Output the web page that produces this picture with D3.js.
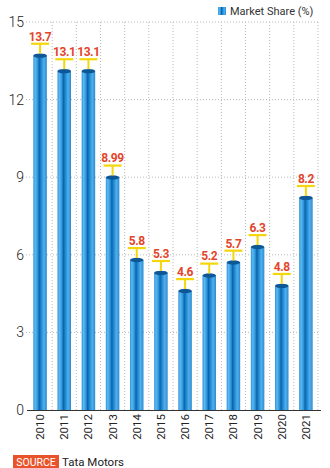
<!DOCTYPE html>
<html><head><meta charset="utf-8">
<script src="https://cdn.jsdelivr.net/npm/d3@7"></script>
<style>body{margin:0;background:#fff;}svg{display:block;font-family:Roboto,"Noto Sans",sans-serif;}</style>
</head><body>
<svg id="c" width="330" height="468"></svg>
<script>
const years = ["2010","2011","2012","2013","2014","2015","2016","2017","2018","2019","2020","2021"];
const share = [13.7,13.1,13.1,8.99,5.8,5.3,4.6,5.2,5.7,6.3,4.8,8.2];
const labels = ["13.7","13.1","13.1","8.99","5.8","5.3","4.6","5.2","5.7","6.3","4.8","8.2"];
const yTicks = [0,3,6,9,12,15];
const seriesName = "Market Share (%)";
const sourceText = "Tata Motors";

const svg = d3.select("#c");
const x = d3.scaleBand().domain(years).range([28,318]).paddingInner(0.44).paddingOuter(0.22);
const y = d3.scaleLinear().domain([0,15]).range([410,22]);

const defs = svg.append("defs");
const g = defs.append("linearGradient").attr("id","cyl").attr("x1","0").attr("x2","1").attr("y1","0").attr("y2","0");
[[0,"#3190d8"],[0.14,"#5cbaf0"],[0.32,"#2e96dc"],[0.44,"#0d63aa"],[0.54,"#177ec9"],[0.78,"#4fb0eb"],[1,"#2e8ad2"]]
  .forEach(([o,c])=>g.append("stop").attr("offset",o).attr("stop-color",c));

svg.append("g").selectAll("line").data(yTicks.filter(d=>d>0)).join("line")
  .attr("x1",26).attr("x2",320).attr("y1",d=>y(d)).attr("y2",d=>y(d))
  .attr("stroke","#b8b8b8").attr("stroke-width",1).attr("stroke-dasharray","1,2");
const step = x.step();
const bounds = years.slice(1).map(yr=>x(yr)-(step-x.bandwidth())/2).concat([318]);
svg.append("g").selectAll("line").data(bounds).join("line")
  .attr("x1",d=>d).attr("x2",d=>d).attr("y1",y(15)).attr("y2",y(0))
  .attr("stroke","#b8b8b8").attr("stroke-width",1).attr("stroke-dasharray","1,2");

svg.append("g").selectAll("text").data(yTicks).join("text")
  .attr("x",24).attr("y",d=>y(d)+5).attr("text-anchor","end")
  .attr("font-size",14).attr("font-weight",300).attr("fill","#222").text(d=>d);

const bw = x.bandwidth();
const bars = svg.append("g");
years.forEach((yr,i)=>{
  const cx = x(yr)+bw/2, top = y(share[i]);
  bars.append("rect").attr("x",x(yr)).attr("y",top).attr("width",bw).attr("height",y(0)-top)
    .attr("fill","url(#cyl)");
  bars.append("ellipse").attr("cx",cx).attr("cy",top).attr("rx",bw/2).attr("ry",2.2).attr("fill","#0d5796");
  bars.append("rect").attr("x",cx-1).attr("y",top-12).attr("width",2).attr("height",10).attr("fill","#f4d60c");
  bars.append("rect").attr("x",cx-9).attr("y",top-13).attr("width",18).attr("height",2.2).attr("fill","#f4d60c");
  bars.append("text").attr("x",cx).attr("y",top-15).attr("text-anchor","middle")
    .attr("font-size",12).attr("font-weight","bold").attr("letter-spacing",-0.4).attr("fill","#e3452a").text(labels[i]);
});

svg.append("line").attr("x1",27).attr("x2",321).attr("y1",y(0)+0.5).attr("y2",y(0)+0.5).attr("stroke","#333").attr("stroke-width",1);

svg.append("g").selectAll("text").data(years).join("text")
  .attr("transform",d=>`translate(${x(d)+bw/2+4},414) rotate(-90)`)
  .attr("text-anchor","end").attr("font-size",11.5).attr("fill","#222").text(d=>d);

svg.append("rect").attr("x",218).attr("y",7).attr("width",8).attr("height",8).attr("fill","url(#cyl)");
svg.append("text").attr("x",230).attr("y",15).attr("font-size",11).attr("fill","#333").text(seriesName);

svg.append("rect").attr("x",13).attr("y",455).attr("width",46).attr("height",14).attr("fill","#e9532b");
svg.append("text").attr("x",36).attr("y",466).attr("text-anchor","middle").attr("font-size",10.5).attr("fill","#fff").text("SOURCE");
svg.append("text").attr("x",62).attr("y",466).attr("font-size",11.5).attr("fill","#222").text(sourceText);
</script>
</body></html>
